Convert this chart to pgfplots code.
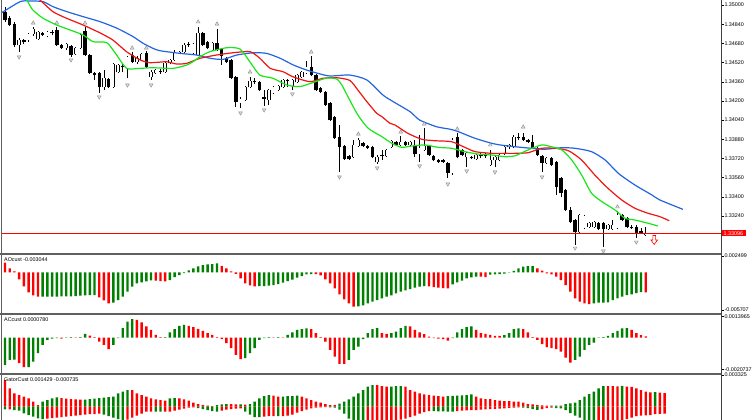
\documentclass[border=0pt]{standalone}
\usepackage{fontspec}
\setmainfont{Liberation Sans}
\usepackage{pgfplots}
\usepackage{pgfplotstable}
\pgfplotsset{compat=1.18}

\definecolor{jaw}{RGB}{35,100,225}
\definecolor{teeth}{RGB}{240,20,20}
\definecolor{lips}{RGB}{25,230,25}
\definecolor{hgreen}{RGB}{0,128,0}
\definecolor{hred}{RGB}{255,0,0}
\definecolor{framec}{RGB}{95,95,95}
\definecolor{fract}{RGB}{140,140,140}

\pgfdeclareplotmark{sellarrow}{%
  \pgfpathmoveto{\pgfqpoint{-1.4pt}{4.5pt}}%
  \pgfpathlineto{\pgfqpoint{1.4pt}{4.5pt}}%
  \pgfpathlineto{\pgfqpoint{1.4pt}{0pt}}%
  \pgfpathlineto{\pgfqpoint{3.3pt}{0pt}}%
  \pgfpathlineto{\pgfqpoint{0pt}{-4.5pt}}%
  \pgfpathlineto{\pgfqpoint{-3.3pt}{0pt}}%
  \pgfpathlineto{\pgfqpoint{-1.4pt}{0pt}}%
  \pgfpathclose
  \pgfusepathqfillstroke
}

% prices in points above 1.33000 (1 point = 0.00001)
\pgfplotstableread{
i o h l c
0 1942 1984 1859 1875
1 1892 1909 1825 1834
2 1842 1859 1650 1667
3 1667 1725 1608 1708
4 1708 1717 1675 1692
5 1708 1767 1692 1758
6 1758 1817 1742 1800
7 1717 1783 1708 1775
8 1767 1775 1742 1750
9 1742 1783 1733 1775
10 1775 1792 1750 1767
11 1792 1817 1658 1667
12 1667 1675 1633 1642
13 1642 1683 1625 1675
14 1658 1667 1567 1583
15 1592 1650 1583 1642
16 1642 1767 1633 1750
17 1783 1817 1575 1583
18 1583 1592 1425 1433
19 1433 1441 1375 1416
20 1433 1441 1266 1316
21 1316 1458 1291 1391
22 1383 1391 1308 1316
23 1316 1517 1308 1508
24 1441 1508 1433 1500
25 1492 1508 1441 1483
26 1475 1575 1391 1567
27 1583 1608 1517 1525
28 1525 1575 1508 1558
29 1542 1600 1533 1592
30 1600 1617 1475 1483
31 1400 1458 1375 1441
32 1433 1467 1425 1458
33 1450 1467 1425 1441
34 1441 1525 1433 1517
35 1517 1550 1508 1542
36 1542 1625 1533 1608
37 1600 1617 1592 1608
38 1608 1683 1600 1667
39 1675 1692 1650 1667
40 1600 1683 1592 1675
41 1583 1817 1575 1767
42 1767 1775 1658 1667
43 1692 1700 1633 1642
44 1625 1692 1617 1683
45 1683 1800 1617 1625
46 1633 1642 1500 1575
47 1558 1567 1517 1525
48 1542 1550 1383 1391
49 1400 1408 1150 1191
50 1183 1233 1141 1216
51 1208 1325 1200 1316
52 1316 1400 1308 1366
53 1366 1391 1341 1358
54 1358 1366 1283 1291
55 1233 1291 1158 1216
56 1208 1300 1166 1291
57 1266 1325 1258 1316
58 1291 1333 1283 1325
59 1316 1383 1308 1375
60 1375 1383 1316 1366
61 1325 1383 1291 1375
62 1358 1425 1350 1416
63 1400 1450 1391 1441
64 1433 1533 1425 1483
65 1483 1575 1408 1416
66 1416 1425 1283 1291
67 1308 1316 1266 1275
68 1275 1283 1158 1166
69 1183 1191 1033 1041
70 1066 1074 883 891
71 899 999 607 816
72 824 833 707 716
73 741 749 707 716
74 733 874 724 833
75 824 891 816 874
76 849 858 816 824
77 824 833 799 808
78 816 824 724 733
79 691 749 674 733
80 749 791 707 741
81 741 799 733 791
82 816 874 808 866
83 858 866 824 833
84 833 908 824 858
85 858 866 824 833
86 833 866 824 858
87 833 874 733 758
88 758 916 690 808
89 791 974 783 824
90 824 833 741 749
91 741 749 699 707
92 707 716 683 691
93 707 716 683 691
94 683 691 557 599
95 599 891 582 874
96 899 933 724 733
97 791 799 741 749
98 733 774 649 766
99 733 741 716 724
100 716 758 707 749
101 749 766 724 741
102 749 766 724 741
103 666 791 657 707
104 707 749 649 733
105 707 758 699 749
106 766 824 749 816
107 816 841 799 833
108 816 916 808 899
109 899 933 874 891
110 899 933 866 874
111 874 883 849 858
112 858 916 799 808
113 808 816 741 749
114 741 749 607 682
115 682 733 674 724
116 724 733 657 666
117 691 699 416 482
118 557 566 399 432
119 457 466 282 290
120 290 315 182 190
121 207 215 -2 107
122 107 257 99 249
123 140 249 132 240
124 149 190 140 182
125 149 199 140 190
126 182 190 124 132
127 182 190 -18 132
128 132 174 124 165
129 132 207 124 165
130 140 282 132 249
131 249 257 199 207
132 224 232 140 149
133 149 165 132 140
134 149 165 57 99
135 115 140 90 99
136 82 149 75 96
}\candles

\pgfplotstableread{
i v c
0 0.00147 0
1 0.00061 0
2 0.00015 0
3 -0.00106 0
4 -0.00213 0
5 -0.00304 0
6 -0.0035 0
7 -0.00369 0
8 -0.00368 1
9 -0.00368 1
10 -0.00367 1
11 -0.00367 1
12 -0.00366 1
13 -0.00365 1
14 -0.00364 1
15 -0.0036 1
16 -0.00354 1
17 -0.0035 1
18 -0.00345 1
19 -0.00344 1
20 -0.0038 0
21 -0.00426 0
22 -0.00471 0
23 -0.00461 1
24 -0.00421 1
25 -0.00369 1
26 -0.00293 1
27 -0.00217 1
28 -0.00167 1
29 -0.00152 1
30 -0.00137 1
31 -0.00122 1
32 -0.00126 0
33 -0.00132 0
34 -0.00137 0
35 -0.00117 1
36 -0.00071 1
37 -0.00041 1
38 -0.00011 1
39 0.0003 1
40 0.00061 1
41 0.00091 1
42 0.00111 1
43 0.00122 1
44 0.00126 1
45 0.00137 1
46 0.00099 0
47 0.00061 0
48 0.00015 0
49 -0.00023 0
50 -0.00091 0
51 -0.00167 0
52 -0.00198 0
53 -0.00213 0
54 -0.00208 1
55 -0.00207 1
56 -0.00202 1
57 -0.00193 1
58 -0.00178 1
59 -0.00157 1
60 -0.00132 1
61 -0.00111 1
62 -0.00081 1
63 -0.00056 1
64 -0.0003 1
65 -0.00026 1
66 -0.00027 0
67 -0.00046 0
68 -0.00106 0
69 -0.00167 0
70 -0.00243 0
71 -0.00334 0
72 -0.0041 0
73 -0.00471 0
74 -0.00521 0
75 -0.00517 1
76 -0.00502 1
77 -0.00471 1
78 -0.00445 1
79 -0.00421 1
80 -0.00395 1
81 -0.00369 1
82 -0.0035 1
83 -0.00319 1
84 -0.00293 1
85 -0.00274 1
86 -0.00254 1
87 -0.00233 1
88 -0.00217 1
89 -0.00208 1
90 -0.00213 0
91 -0.00223 0
92 -0.00233 0
93 -0.00239 0
94 -0.00243 0
95 -0.00182 1
96 -0.00152 1
97 -0.00126 1
98 -0.00091 1
99 -0.00076 1
100 -0.00065 1
101 -0.00066 0
102 -0.00071 0
103 -0.00035 1
104 -0.0003 1
105 -0.00026 1
106 -0.0002 1
107 -0.00005 1
108 0.00023 1
109 0.00061 1
110 0.00087 1
111 0.00096 1
112 0.00097 1
113 0.00061 0
114 0.00026 0
115 -0.00015 0
116 -0.0003 0
117 -0.00065 0
118 -0.00117 0
119 -0.00193 0
120 -0.00293 0
121 -0.00395 0
122 -0.00445 0
123 -0.00471 0
124 -0.00482 0
125 -0.00471 1
126 -0.00461 1
127 -0.0046 1
128 -0.00456 1
129 -0.00421 1
130 -0.00395 1
131 -0.00369 1
132 -0.00345 1
133 -0.00334 1
134 -0.00315 1
135 -0.003 1
136 -0.003044 0
}\aotab

\pgfplotstableread{
i v c
0 -0.001788 1
1 -0.001461 1
2 -0.00145 1
3 -0.001683 0
4 -0.001945 0
5 -0.00194 1
6 -0.001572 1
7 -0.001028 1
8 -0.000478 1
9 -0.000151 1
10 -0.0000655 1
11 -0.0000328 1
12 -0.0000655 0
13 -0.0000197 1
14 0.0000197 1
15 -0.0000197 0
16 0.0000328 1
17 0.000242 1
18 0.000131 0
19 0.0000197 0
20 -0.000262 0
21 -0.000478 0
22 -0.000766 0
23 -0.000478 1
24 -0.0000459 1
25 0.000609 1
26 0.001048 1
27 0.001199 1
28 0.001159 0
29 0.000983 0
30 0.000721 0
31 0.000504 0
32 0.000177 0
33 0.0000197 0
34 0.0000328 1
35 0.000328 1
36 0.000544 1
37 0.000766 1
38 0.000832 1
39 0.000766 0
40 0.000675 0
41 0.00057 0
42 0.000439 0
43 0.000282 0
44 0.000177 0
45 0.0000197 0
46 -0.000111 0
47 -0.000373 0
48 -0.000701 0
49 -0.001133 0
50 -0.001421 0
51 -0.001356 1
52 -0.001028 1
53 -0.000701 1
54 -0.000151 1
55 -0.0000328 1
56 0.0000197 1
57 -0.0000197 0
58 0.0000197 1
59 0.00001 0
60 0.000177 1
61 0.000328 1
62 0.000504 1
63 0.000544 1
64 0.00059 1
65 0.000544 0
66 0.000282 0
67 0.0000197 0
68 -0.000262 0
69 -0.000806 0
70 -0.001245 0
71 -0.001723 0
72 -0.00173 0
73 -0.001461 1
74 -0.000806 1
75 -0.00059 1
76 -0.000111 1
77 0.000282 1
78 0.000544 1
79 0.000609 1
80 0.000282 0
81 0.000242 0
82 0.000282 1
83 0.000393 1
84 0.000609 1
85 0.000766 1
86 0.000721 0
87 0.000504 0
88 0.000328 0
89 0.000216 0
90 0.0000655 0
91 -0.0000459 0
92 -0.0000655 0
93 -0.000111 0
94 -0.000197 0
95 -0.0000459 1
96 0.000328 1
97 0.000544 1
98 0.000675 1
99 0.000721 1
100 0.000504 0
101 0.000282 0
102 0.000242 0
103 0.000177 0
104 0.000111 0
105 0.000105 0
106 0.000151 1
107 0.000282 1
108 0.000544 1
109 0.00059 1
110 0.000544 0
111 0.000328 0
112 0.0000197 0
113 -0.000151 0
114 -0.000439 0
115 -0.000635 0
116 -0.000701 0
117 -0.000766 0
118 -0.000917 0
119 -0.00131 0
120 -0.001638 0
121 -0.001461 1
122 -0.001245 1
123 -0.000806 1
124 -0.000478 1
125 -0.000328 1
126 -0.0000197 1
127 0.0000197 1
128 0.000111 1
129 0.000282 1
130 0.000439 1
131 0.00059 1
132 0.000609 1
133 0.000504 0
134 0.000282 0
135 0.000151 0
136 0.000078 0
}\actab

\pgfplotstableread{
i up uc lo lc
0 0.002801 0 -0.000283 1
1 0.00192 0 -0.000283 0
2 0.001395 0 -0.000346 1
3 0.001227 0 -0.00042 1
4 0.001049 0 -0.000703 1
5 0.000871 0 -0.000871 1
6 0.000525 0 -0.001049 1
7 0.000178 0 -0.001227 1
8 0.000525 1 -0.001311 1
9 0.000703 1 -0.001259 0
10 0.000871 1 -0.001206 0
11 0.000976 1 -0.001154 0
12 0.000913 0 -0.001101 0
13 0.000839 0 -0.001049 0
14 0.000808 0 -0.000997 0
15 0.000766 0 -0.000944 0
16 0.000734 0 -0.000892 0
17 0.000755 1 -0.000839 0
18 0.000787 1 -0.000787 0
19 0.000839 1 -0.000766 0
20 0.000913 1 -0.000734 0
21 0.000944 1 -0.000839 1
22 0.000997 1 -0.000997 1
23 0.001049 1 -0.001154 1
24 0.001395 1 -0.001311 1
25 0.001574 1 -0.001416 1
26 0.001752 1 -0.001364 0
27 0.001731 0 -0.001154 0
28 0.001395 0 -0.000944 0
29 0.001227 0 -0.000734 0
30 0.001049 0 -0.000525 0
31 0.000871 0 -0.000504 0
32 0.000766 0 -0.00051 1
33 0.000703 0 -0.000525 1
34 0.000629 0 -0.00052 0
35 0.000871 1 -0.000504 0
36 0.000892 1 -0.00042 0
37 0.000871 0 -0.000315 0
38 0.000766 0 -0.00021 0
39 0.000629 0 -0.000105 0
40 0.00042 0 -0.0000734 0
41 0.000283 0 -0.000157 1
42 0.000178 0 -0.000262 1
43 0.000105 0 -0.000367 1
44 0.0000734 0 -0.000472 1
45 0.000178 1 -0.000504 1
46 0.000241 1 -0.00042 0
47 0.000283 1 -0.000315 0
48 0.000262 0 -0.000262 0
49 0.000241 0 -0.00021 0
50 0.000252 1 -0.000178 0
51 0.00021 0 -0.000525 1
52 0.000283 1 -0.000839 1
53 0.000525 1 -0.00108 1
54 0.000871 1 -0.001101 1
55 0.001122 1 -0.001049 0
56 0.001227 1 -0.000997 0
57 0.001154 0 -0.000976 0
58 0.001049 0 -0.000997 1
59 0.00107 1 -0.000976 0
60 0.001101 1 -0.000944 0
61 0.001122 1 -0.000839 0
62 0.001154 1 -0.000629 0
63 0.001049 0 -0.000472 0
64 0.000871 0 -0.000315 0
65 0.000703 0 -0.000168 0
66 0.000525 0 -0.000105 0
67 0.00042 0 -0.0000734 0
68 0.000283 0 -0.0000525 0
69 0.000178 0 -0.0000734 1
70 0.000157 0 -0.000105 1
71 0.000315 1 -0.000315 1
72 0.000525 1 -0.000734 1
73 0.000766 1 -0.001259 1
74 0.001049 1 -0.001574 1
75 0.001395 1 -0.001836 1
76 0.001752 1 -0.001993 1
77 0.002098 1 -0.00192 0
78 0.002276 1 -0.001888 0
79 0.002255 0 -0.001783 0
80 0.002171 0 -0.001678 0
81 0.002098 0 -0.001626 0
82 0.002119 1 -0.001574 0
83 0.00215 1 -0.001469 0
84 0.002161 1 -0.001364 0
85 0.002098 0 -0.001259 0
86 0.001752 0 -0.001101 0
87 0.001574 0 -0.000944 0
88 0.001395 0 -0.000734 0
89 0.00129 0 -0.000577 0
90 0.001227 0 -0.000462 0
91 0.001154 0 -0.000472 1
92 0.001122 0 -0.000483 1
93 0.001049 0 -0.000493 1
94 0.001122 1 -0.000504 1
95 0.00113 1 -0.000525 1
96 0.001154 1 -0.000472 0
97 0.001185 1 -0.00042 0
98 0.001227 1 -0.000388 0
99 0.00129 1 -0.000367 0
100 0.001049 0 -0.000346 0
101 0.000871 0 -0.000315 0
102 0.000808 0 -0.000283 0
103 0.0008 0 -0.000262 0
104 0.000703 0 -0.000231 0
105 0.000629 0 -0.00021 0
106 0.000598 0 -0.000168 0
107 0.00059 0 -0.000126 0
108 0.000525 0 -0.000105 0
109 0.00052 0 -0.0000734 0
110 0.00042 0 -0.0000839 1
111 0.000283 0 -0.000157 1
112 0.000241 0 -0.000262 1
113 0.000178 0 -0.000336 1
114 0.000136 0 -0.000262 0
115 0.000105 0 -0.000157 0
116 0.000115 1 -0.000105 0
117 0.000126 1 -0.000136 1
118 0.00011 0 -0.000168 1
119 0.000283 1 -0.000367 1
120 0.000346 1 -0.000671 1
121 0.00042 1 -0.000944 1
122 0.000703 1 -0.001154 1
123 0.001049 1 -0.001416 1
124 0.001332 1 -0.001626 1
125 0.001574 1 -0.001783 1
126 0.00192 1 -0.001731 0
127 0.002171 1 -0.001678 0
128 0.002161 0 -0.001574 0
129 0.00215 0 -0.001542 0
130 0.00214 0 -0.0015 0
131 0.002182 1 -0.001469 0
132 0.002098 0 -0.001311 0
133 0.002088 0 -0.001154 0
134 0.00192 0 -0.000997 0
135 0.001752 0 -0.000944 0
136 0.001574 0 -0.000913 0
137 0.0015 0 -0.000871 0
138 0.001521 1 -0.000787 0
139 0.001469 0 -0.000755 0
140 0.001429 0 -0.000735 0
}\gatortab

\pgfplotsset{panel/.style={
  scale only axis, width=719.5bp, xmin=-0.743, xmax=151.98,
  axis line style={draw=none}, xtick=\empty,
  ytick pos=right, yticklabel pos=right, tick align=outside,
  major tick length=2.5bp, tick style={black, line width=0.5bp},
  yticklabel style={font=\fontsize{5.4}{6}\selectfont, inner sep=0.8bp},
  scaled y ticks=false, clip mode=individual}}
\pgfplotsset{hbar/.style={ybar, bar width=2.4bp, bar shift=0pt, draw=none}}
\pgfplotsset{ebar/.style={draw=none, mark=none,
  error bars/.cd, y dir=plus, y explicit, error mark=none, error bar style={#1}}}

\begin{document}
\begin{tikzpicture}
% ---------------- main price panel ----------------
\begin{axis}[panel, at={(1.5bp,-253bp)}, anchor=south west, height=253bp,
  ymin=-68.3, ymax=2042,
  ytick={240,400,...,2000},
  yticklabels={1.33240,1.33400,1.33560,1.33720,1.33880,1.34040,1.34200,1.34360,1.34520,1.34680,1.34840,1.35000}]
% wicks (low to high)
\addplot[ebar={draw=black, line width=0.75bp}]
  table[x=i, y=l, y error expr=\thisrow{h}-\thisrow{l}] {\candles};
% bodies (outline / black fill)
\addplot[ebar={draw=black, line width=3.4bp}]
  table[x=i, y expr={min(\thisrow{o},\thisrow{c})-3},
        y error expr={abs(\thisrow{o}-\thisrow{c})+6}] {\candles};
% white interior of bullish bodies
\addplot[restrict expr to domain={\thisrow{c}-\thisrow{o}}{7:5000},
  ebar={draw=white, line width=2.2bp}]
  table[x=i, y expr={\thisrow{o}+3}, y error expr={\thisrow{c}-\thisrow{o}-6}] {\candles};
% jaw (blue)
\addplot[jaw, line width=1.2bp, smooth, tension=0.4] coordinates {
(-0.7,1936) (3.2,2028) (5.3,2034) (8.1,2028) (10.2,1986) (13.2,1944) (16.6,1903)
(20.2,1861) (23.8,1806) (27.2,1736) (29.3,1681) (31.4,1639) (32.9,1619) (37.1,1597)
(40.7,1583) (43.5,1556) (46.3,1547) (49.2,1583) (52.7,1602) (55.5,1597) (58.4,1556)
(61.2,1500) (64.0,1458) (66.9,1425) (69.0,1408) (73.2,1416) (76.8,1375) (80.2,1250)
(82.4,1194) (86.0,1110) (88.0,1041) (91.6,985) (94.5,964) (96.2,944) (99.8,888)
(103.3,847) (105.1,833) (108.3,818) (111.8,805) (114.6,797) (118.2,810) (121.0,805)
(124.5,777) (127.4,707) (130.2,596) (133.7,499) (137.3,416) (139.0,374) (143.9,296)};
% teeth (red)
\addplot[teeth, line width=1.2bp, smooth, tension=0.4] coordinates {
(5.0,2100) (7.4,2042) (10.2,1944) (13.1,1889) (16.6,1833) (20.2,1767) (22.9,1708)
(25.8,1611) (28.7,1542) (30.8,1519) (34.3,1527) (36.4,1508) (38.6,1514) (41.4,1556)
(44.9,1583) (48.4,1602) (52.0,1611) (54.1,1556) (56.3,1472) (59.0,1444) (61.1,1402)
(64.7,1361) (67.5,1389) (70.4,1394) (73.2,1371) (74.9,1291) (76.0,1235) (77.1,1180)
(78.9,1097) (80.0,1069) (81.7,1014) (82.8,999) (85.5,930) (88.5,880) (91.3,868)
(94.8,860) (97.6,813) (99.8,777) (103.3,763) (106.1,763) (108.3,763) (111.0,768)
(113.9,805) (116.7,805) (119.6,785) (122.4,707) (125.2,582) (128.0,471) (130.9,374)
(133.7,305) (136.5,263) (139.0,235) (141.0,201)};
% lips (green)
\addplot[lips, line width=1.2bp, smooth, tension=0.4] coordinates {
(3.0,2120) (4.6,2042) (5.9,1959) (8.1,1889) (11.0,1833) (13.8,1792) (16.6,1750)
(18.7,1694) (21.6,1686) (23.7,1583) (25.8,1472) (28.7,1472) (31.4,1477) (35.7,1472)
(38.6,1500) (39.9,1527) (41.4,1569) (43.5,1611) (47.1,1644) (49.9,1633) (52.0,1525)
(54.1,1416) (56.9,1389) (59.8,1333) (62.6,1320) (65.4,1354) (68.3,1391) (70.4,1383)
(71.5,1333) (72.8,1235) (74.9,1083) (77.1,972) (80.0,902) (82.1,847) (84.2,813)
(86.3,824) (89.2,833) (91.9,813) (94.8,805) (97.6,777) (100.4,757) (103.3,749)
(106.1,735) (108.3,743) (111.0,791) (113.9,833) (116.0,818) (118.2,791) (120.3,707)
(122.4,582) (124.5,430) (126.7,360) (129.5,290) (131.6,221) (133.7,207) (136.6,179)
(138.6,157)};
% current bid line
\addplot[draw=red, line width=1bp, mark=none] coordinates {(-1,96) (153,96)};
% fractals
\addplot[only marks, mark=triangle*, mark size=2.2bp,
  mark options={fill=fract!30, draw=fract, line width=0.4bp}] coordinates {
(6,1850) (11,1850) (17,1850) (27,1642) (30,1642) (41,1859) (45,1842) (52,1441)
(65,1608) (75,924) (84,941) (89,1008) (96,966) (103,833) (110,983) (130,316)};
\addplot[only marks, mark=triangle*, mark size=2.2bp,
  mark options={fill=fract!30, draw=fract, line width=0.4bp, rotate=180}] coordinates {
(3,1567) (14,1542) (20,1233) (26,1333) (31,1333) (50,1100) (55,1125) (61,1258)
(71,566) (79,641) (88,657) (94,507) (98,616) (104,607) (114,566) (121,-27)
(127,-52) (134,23)};
\addplot[only marks, mark=sellarrow, mark options={draw=hred, fill=white, line width=0.6bp}]
  coordinates {(137.8,40)};
\node[fill=hred, text=white, inner xsep=2.5bp, inner ysep=1.2bp, anchor=west,
  font=\fontsize{5.4}{6}\selectfont] at (axis cs:151.98,96) {1.33096};
\end{axis}

% ---------------- AO panel ----------------
\begin{axis}[panel, at={(1.5bp,-313bp)}, anchor=south west, height=59bp,
  ymin=-0.0061712, ymax=0.0027968,
  ytick={0.002499,-0.005707}, yticklabels={0.002499,-0.005707}]
\addplot[hbar, fill=hgreen, restrict expr to domain={\thisrow{c}}{1:1}] table[x=i, y=v] {\aotab};
\addplot[hbar, fill=hred, restrict expr to domain={\thisrow{c}}{0:0}] table[x=i, y=v] {\aotab};
\node[anchor=north west, inner sep=0pt, font=\fontsize{5.4}{6}\selectfont]
  at (rel axis cs:0,1) [xshift=2.5bp, yshift=-3.5bp] {AOcust -0.003044};
\end{axis}

% ---------------- AC panel ----------------
\begin{axis}[panel, at={(1.5bp,-373bp)}, anchor=south west, height=59bp,
  ymin=-0.00232525, ymax=0.00153925,
  ytick={0.0013965,-0.0020737}, yticklabels={0.0013965,-0.0020737}]
\addplot[hbar, fill=hgreen, restrict expr to domain={\thisrow{c}}{1:1}] table[x=i, y=v] {\actab};
\addplot[hbar, fill=hred, restrict expr to domain={\thisrow{c}}{0:0}] table[x=i, y=v] {\actab};
\node[anchor=north west, inner sep=0pt, font=\fontsize{5.4}{6}\selectfont]
  at (rel axis cs:0,1) [xshift=2.5bp, yshift=-3.5bp] {ACcust 0.0000780};
\end{axis}

% ---------------- Gator panel ----------------
\begin{axis}[panel, at={(1.5bp,-420bp)}, anchor=south west, height=45.5bp,
  ymin=-0.0013952, ymax=0.0033778,
  ytick={0.003325}, yticklabels={0.003325}]
\addplot[hbar, fill=hgreen, restrict expr to domain={\thisrow{uc}}{1:1}] table[x=i, y=up] {\gatortab};
\addplot[hbar, fill=hred, restrict expr to domain={\thisrow{uc}}{0:0}] table[x=i, y=up] {\gatortab};
\addplot[hbar, fill=hgreen, restrict expr to domain={\thisrow{lc}}{1:1}] table[x=i, y=lo] {\gatortab};
\addplot[hbar, fill=hred, restrict expr to domain={\thisrow{lc}}{0:0}] table[x=i, y=lo] {\gatortab};
\node[anchor=north west, inner sep=0pt, font=\fontsize{5.4}{6}\selectfont]
  at (rel axis cs:0,1) [xshift=2.5bp, yshift=-3.5bp] {GatorCust 0.001429 -0.000735};
\end{axis}

% ---------------- frame ----------------
\draw[framec, line width=0.8bp] (1.5bp,0bp) -- (1.5bp,-420bp);
\draw[black!75, line width=0.8bp] (721bp,0bp) -- (721bp,-420bp);
\draw[framec, line width=2bp] (0bp,-254bp) -- (721bp,-254bp);
\draw[framec, line width=2bp] (0bp,-313.5bp) -- (721bp,-313.5bp);
\draw[framec, line width=2bp] (0bp,-374bp) -- (721bp,-374bp);
\pgfresetboundingbox
\useasboundingbox (0bp,0bp) rectangle (752bp,-420bp);
\end{tikzpicture}
\end{document}
